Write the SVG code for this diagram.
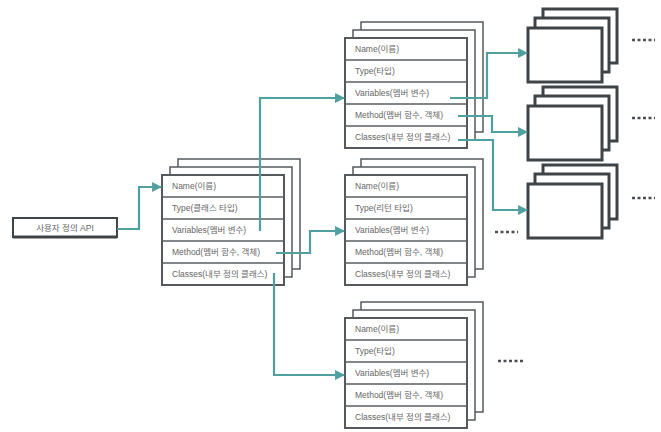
<svg xmlns="http://www.w3.org/2000/svg" width="661" height="432" viewBox="0 0 661 432">
<defs>
<style>
.bg{fill:#fff}
.back{fill:#fff;stroke:#555a5e;stroke-width:1.5}
.front{fill:#fff;stroke:#55595d;stroke-width:2}
.row{stroke:#5a5e62;stroke-width:1.5}
.t{font-family:"Liberation Sans","Noto Sans CJK KR",sans-serif;font-size:8.5px;fill:#666}
.blank{fill:#fff;stroke:#3e4347;stroke-width:3}
.conn{fill:none;stroke:#50a0a0;stroke-width:2.2}
.dots{stroke:#4a4e52;stroke-width:2.5;stroke-dasharray:3 2.5}
</style>
<marker id="ah" viewBox="0 0 10 10" refX="9" refY="5" markerWidth="4.5" markerHeight="4.5" orient="auto" markerUnits="strokeWidth">
<path d="M0,0 L10,5 L0,10 z" fill="#50a0a0"/>
</marker>
<g id="tbl">
<rect class="back" x="16" y="-16" width="122" height="110"/>
<rect class="back" x="8" y="-8" width="122" height="110"/>
<rect class="front" x="0" y="0" width="122" height="110"/>
<line class="row" x1="0" y1="22" x2="122" y2="22"/>
<line class="row" x1="0" y1="44" x2="122" y2="44"/>
<line class="row" x1="0" y1="66" x2="122" y2="66"/>
<line class="row" x1="0" y1="88" x2="122" y2="88"/>
</g>
<g id="blk">
<rect class="blank" x="15" y="-19" width="74" height="54"/>
<rect class="blank" x="7" y="-10" width="74" height="54"/>
<rect class="blank" x="0" y="0" width="74" height="54"/>
</g>
</defs>
<rect class="bg" x="0" y="0" width="661" height="432"/>

<g id="api">
<rect x="13" y="218" width="104" height="19" fill="#fff" stroke="#3e4347" stroke-width="2"/>
<line x1="13" y1="237" x2="117" y2="237" stroke="#3e4347" stroke-width="3"/>
<text class="t" x="65" y="231" text-anchor="middle">사용자 정의 API</text>
</g>

<g id="stack1">
<use href="#tbl" x="162" y="175"/>
<text class="t" x="172" y="189">Name(이름)</text>
<text class="t" x="172" y="211">Type(클래스 타입)</text>
<text class="t" x="172" y="233">Variables(멤버 변수)</text>
<text class="t" x="172" y="255">Method(멤버 함수, 객체)</text>
<text class="t" x="172" y="277">Classes(내부 정의 클래스)</text>
</g>

<g id="stack2">
<use href="#tbl" x="345" y="38"/>
<text class="t" x="355" y="52">Name(이름)</text>
<text class="t" x="355" y="74">Type(타입)</text>
<text class="t" x="355" y="96">Variables(멤버 변수)</text>
<text class="t" x="355" y="118">Method(멤버 함수, 객체)</text>
<text class="t" x="355" y="140">Classes(내부 정의 클래스)</text>
</g>

<g id="stack3">
<use href="#tbl" x="345" y="175"/>
<text class="t" x="355" y="189">Name(이름)</text>
<text class="t" x="355" y="211">Type(리턴 타입)</text>
<text class="t" x="355" y="233">Variables(멤버 변수)</text>
<text class="t" x="355" y="255">Method(멤버 함수, 객체)</text>
<text class="t" x="355" y="277">Classes(내부 정의 클래스)</text>
</g>

<g id="stack4">
<use href="#tbl" x="345" y="318"/>
<text class="t" x="355" y="332">Name(이름)</text>
<text class="t" x="355" y="354">Type(타입)</text>
<text class="t" x="355" y="376">Variables(멤버 변수)</text>
<text class="t" x="355" y="398">Method(멤버 함수, 객체)</text>
<text class="t" x="355" y="420">Classes(내부 정의 클래스)</text>
</g>

<g id="boxA"><use href="#blk" x="528" y="28"/></g>
<g id="boxB"><use href="#blk" x="528" y="106"/></g>
<g id="boxC"><use href="#blk" x="528" y="184"/></g>

<g id="more">
<line class="dots" x1="632" y1="40" x2="655" y2="40"/>
<line class="dots" x1="632" y1="118" x2="655" y2="118"/>
<line class="dots" x1="632" y1="198" x2="655" y2="198"/>
<line class="dots" x1="495" y1="232" x2="518" y2="232"/>
<line class="dots" x1="498" y1="361" x2="524" y2="361"/>
</g>

<g id="connectors">
<path class="conn" d="M117,229 H139 V187 H161" marker-end="url(#ah)"/>
<path class="conn" d="M260,231 V98 H344" marker-end="url(#ah)"/>
<path class="conn" d="M276,253 H310 V231 H344" marker-end="url(#ah)"/>
<path class="conn" d="M274,273 V375 H344" marker-end="url(#ah)"/>
<path class="conn" d="M450,98 H487 V53 H527" marker-end="url(#ah)"/>
<path class="conn" d="M458,116 H492 V132 H527" marker-end="url(#ah)"/>
<path class="conn" d="M458,140 H493 V210 H527" marker-end="url(#ah)"/>
</g>
</svg>
